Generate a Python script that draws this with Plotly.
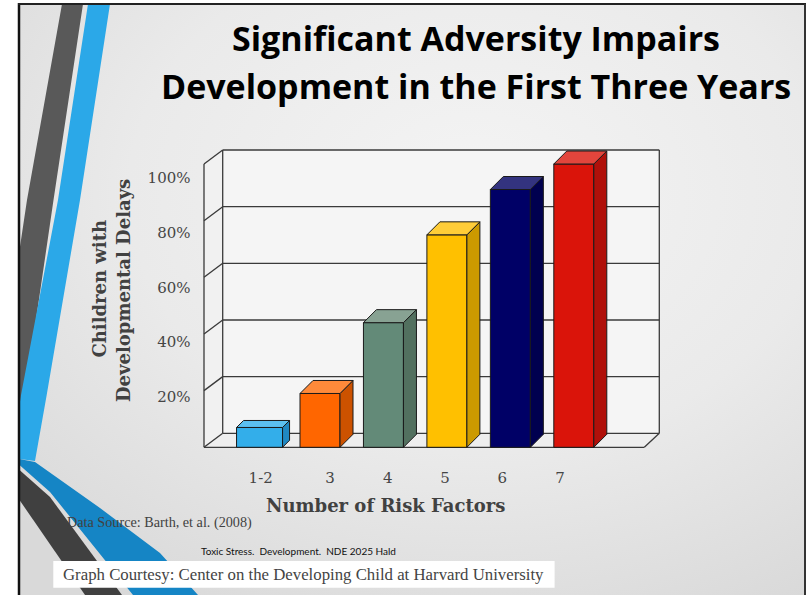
import base64
import plotly.graph_objects as go

# ---------------- data ----------------
RISK_FACTORS = ["1-2", "3", "4", "5", "6", "7"]
DELAY_PCT = [7, 19, 44, 75, 91, 100]
Y_TICKS = [20, 40, 60, 80, 100]
Y_TICK_TEXT = ["20%", "40%", "60%", "80%", "100%"]

FRONT_COLORS = ["#33AEEA", "#FF6600", "#638A78", "#FFC000", "#000066", "#DA140A"]
TOP_COLORS = ["#5CC0F0", "#FF8A3A", "#88A293", "#FFCD38", "#33337F", "#E2453C"]
SIDE_COLORS = ["#2088C2", "#CC5200", "#52705F", "#CC9A00", "#00004F", "#B0100A"]

# ---------------- layout geometry (pixels) ----------------
W, H = 810, 595
X0, SX = 256.55, 63.45      # px of first category, px per category
Y0, SY = 447.3, 2.833       # px of value 0 (front plane), px per percent

def xu(px):
    return (px - X0) / SX

def yu(py):
    return (Y0 - py) / SY

def pp(px, py):
    return f"{px / W:.5f},{1 - py / H:.5f}"

def ppath(points):
    return "M " + " L ".join(pp(x, y) for x, y in points) + " Z"

BAR_W_PX = [46, 40, 40, 40, 40, 40]
BAR_DEPTH_PX = [7, 13, 13, 13, 13, 13]
BAR_LEFT_OFFSET_PX = -20
X_LABEL_PX = [260.7, 330, 387.7, 445, 502.3, 560]
FL, BL = xu(204), xu(222.7)
FR, BR = xu(644.3), xu(659.3)
WALL_D = 14 / SY
EDGE = "#1a1a1a"
GRID = "#3a3a3a"

fig = go.Figure()

# front faces of the bars
fig.add_trace(go.Bar(
    x=list(range(len(DELAY_PCT))), y=DELAY_PCT,
    width=[w / SX for w in BAR_W_PX], offset=BAR_LEFT_OFFSET_PX / SX,
    marker=dict(color=FRONT_COLORS, line=dict(color=EDGE, width=1)),
    hoverinfo="skip",
))

# top and side faces computed from the data values
for i, v in enumerate(DELAY_PCT):
    xl = i + BAR_LEFT_OFFSET_PX / SX
    xr = xl + BAR_W_PX[i] / SX
    ddx = BAR_DEPTH_PX[i] / SX
    ddy = BAR_DEPTH_PX[i] / SY
    fig.add_trace(go.Scatter(
        x=[xr, xr, xr + ddx, xr + ddx, xr], y=[0, v, v + ddy, ddy, 0],
        mode="lines", fill="toself", fillcolor=SIDE_COLORS[i],
        line=dict(color=EDGE, width=1), hoverinfo="skip"))
    fig.add_trace(go.Scatter(
        x=[xl, xl + ddx, xr + ddx, xr, xl], y=[v, v + ddy, v + ddy, v, v],
        mode="lines", fill="toself", fillcolor=TOP_COLORS[i],
        line=dict(color=EDGE, width=1), hoverinfo="skip"))

# slide background gradient (inline SVG image)
BG_W, BG_H = 786, 591
svg = (f"<svg xmlns='http://www.w3.org/2000/svg' width='{BG_W}' height='{BG_H}'>"
       "<defs><radialGradient id='g' cx='0.58' cy='0.32' r='0.8'>"
       "<stop offset='0' stop-color='#f4f4f4'/><stop offset='0.55' stop-color='#eaeaea'/>"
       "<stop offset='1' stop-color='#d9d9d9'/></radialGradient></defs>"
       f"<rect width='{BG_W}' height='{BG_H}' fill='url(#g)'/></svg>")
bg_uri = "data:image/svg+xml;base64," + base64.b64encode(svg.encode()).decode()
images = [dict(source=bg_uri, xref="paper", yref="paper", x=19 / W, y=1 - 4 / H,
               sizex=BG_W / W, sizey=BG_H / H, xanchor="left", yanchor="top",
               sizing="stretch", layer="below")]

shapes = []
# decorative stripes
shapes.append(dict(type="path", xref="paper", yref="paper", layer="below",
                   path=ppath([(62, 4), (83, 4), (53.5, 200), (25, 395), (19.5, 430), (19.5, 250), (27, 200)]),
                   fillcolor="#595959", line=dict(width=0)))
shapes.append(dict(type="path", xref="paper", yref="paper", layer="below",
                   path=ppath([(88, 4), (110, 4), (80, 200), (46.7, 395), (35, 461), (19.5, 459), (19.5, 405), (21, 395), (58, 200)]),
                   fillcolor="#2BA8E8", line=dict(width=0)))
shapes.append(dict(type="path", xref="paper", yref="paper", layer="below",
                   path=ppath([(19.5, 459), (35, 462), (100, 508), (160, 553), (198, 595), (133, 595), (50, 492), (19.5, 465)]),
                   fillcolor="#1585C5", line=dict(width=0)))
shapes.append(dict(type="path", xref="paper", yref="paper", layer="below",
                   path=ppath([(19.5, 470), (50, 497), (122, 595), (85, 595), (19.5, 500)]),
                   fillcolor="#404040", line=dict(width=0)))
shapes.append(dict(type="line", xref="paper", yref="paper", x0=19 / W, x1=19 / W, y0=0, y1=1 - 3 / H,
                   line=dict(color="#111111", width=2.5), layer="below"))
shapes.append(dict(type="line", xref="paper", yref="paper", x0=18 / W, x1=806 / W, y0=1 - 4 / H, y1=1 - 4 / H,
                   line=dict(color="#222222", width=2), layer="below"))
shapes.append(dict(type="line", xref="paper", yref="paper", x0=805 / W, x1=805 / W, y0=0, y1=1 - 4 / H,
                   line=dict(color="#333333", width=2), layer="below"))
# white box behind credit line
shapes.append(dict(type="rect", xref="paper", yref="paper", x0=53.3 / W, x1=554.6 / W,
                   y0=1 - 587.7 / H, y1=1 - 561 / H, fillcolor="white", line=dict(width=0), layer="below"))

# chart walls (data coordinates)
shapes.append(dict(type="rect", xref="x", yref="y", x0=BL, x1=BR, y0=WALL_D, y1=100 + WALL_D,
                   fillcolor="#f5f5f5", line=dict(width=0), layer="below"))
shapes.append(dict(type="path", xref="x", yref="y", layer="below",
                   path=f"M {FL},0 L {FL},100 L {BL},{100 + WALL_D} L {BL},{WALL_D} Z",
                   fillcolor="#f1f1f1", line=dict(width=0)))
shapes.append(dict(type="path", xref="x", yref="y", layer="below",
                   path=f"M {FL},0 L {FR},0 L {BR},{WALL_D} L {BL},{WALL_D} Z",
                   fillcolor="#eeeeee", line=dict(width=0)))
gl = dict(color=GRID, width=1.3)
for v in [0] + Y_TICKS:
    shapes.append(dict(type="line", xref="x", yref="y", x0=BL, x1=BR, y0=v + WALL_D, y1=v + WALL_D,
                       line=gl, layer="below"))
    shapes.append(dict(type="line", xref="x", yref="y", x0=FL, x1=BL, y0=v, y1=v + WALL_D,
                       line=gl, layer="below"))
shapes.append(dict(type="line", xref="x", yref="y", x0=FL, x1=FL, y0=0, y1=100, line=gl, layer="below"))
shapes.append(dict(type="line", xref="x", yref="y", x0=BL, x1=BL, y0=WALL_D, y1=100 + WALL_D, line=gl, layer="below"))
shapes.append(dict(type="line", xref="x", yref="y", x0=BR, x1=BR, y0=WALL_D, y1=100 + WALL_D, line=gl, layer="below"))
shapes.append(dict(type="line", xref="x", yref="y", x0=FL, x1=FR, y0=0, y1=0, line=gl, layer="below"))
shapes.append(dict(type="line", xref="x", yref="y", x0=FR, x1=BR, y0=0, y1=WALL_D, line=gl, layer="below"))

SERIF = "DejaVu Serif"
TXT = "#414141"

def ann(text, px, py, size, family, color=TXT, xanchor="center", angle=0):
    return dict(text=text, x=px / W, y=1 - py / H, xref="paper", yref="paper",
                xanchor=xanchor, yanchor="middle", showarrow=False, textangle=angle,
                font=dict(family=family, size=size, color=color))

annotations = [
    ann("<b>Significant Adversity Impairs</b>", 475.5, 38, 34, "Open Sans", "#000000"),
    ann("<b>Development in the First Three Years</b>", 475.5, 86, 34, "Open Sans", "#000000"),
    ann("<b>Children with</b>", 99.3, 288.3, 18, SERIF, angle=-90),
    ann("<b>Developmental Delays</b>", 123.5, 290.5, 18, SERIF, angle=-90),
    ann("<b>Number of Risk Factors</b>", 385, 505, 18, SERIF),
    ann("Data Source: Barth, et al. (2008)", 65, 522, 14.2, "Liberation Serif", xanchor="left"),
    ann("Toxic Stress.\u00a0 Development.\u00a0 NDE 2025 Hald", 199, 550.5, 10, "Lato", "#111111", xanchor="left"),
    ann("Graph Courtesy: Center on the Developing Child at Harvard University", 61, 574.5, 16.8,
        "Liberation Serif", "#444444", xanchor="left"),
]

fig.update_layout(
    width=W, height=H,
    margin=dict(l=0, r=0, t=0, b=0, pad=0),
    paper_bgcolor="white", plot_bgcolor="rgba(0,0,0,0)",
    showlegend=False,
    images=images, shapes=shapes, annotations=annotations,
    xaxis=dict(range=[xu(0), xu(W)], showgrid=False, zeroline=False, showline=False,
               tickmode="array", tickvals=[xu(p) for p in X_LABEL_PX], ticktext=RISK_FACTORS,
               ticks="", anchor="free", position=1 - 467 / H,
               tickfont=dict(family=SERIF, size=15, color="#454545")),
    yaxis=dict(range=[yu(H), yu(0)], showgrid=False, zeroline=False, showline=False,
               tickmode="array", tickvals=[v * 0.963 - 1.3 for v in Y_TICKS], ticktext=Y_TICK_TEXT,
               ticks="", anchor="free", position=190.5 / W,
               tickfont=dict(family=SERIF, size=15, color="#454545")),
)

fig.write_html("out.html")
